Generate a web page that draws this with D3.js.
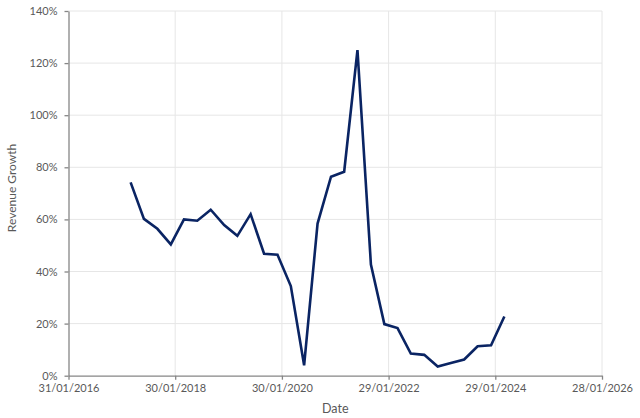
<!DOCTYPE html>
<html>
<head>
<meta charset="utf-8">
<script src="https://cdn.jsdelivr.net/npm/d3@7"></script>
<style>
  html, body { margin: 0; padding: 0; background: #fff; }
  svg text { font-family: Lato, "Open Sans", "Liberation Sans", sans-serif; fill: #595959; }
</style>
</head>
<body>
<svg id="chart" width="640" height="418"></svg>
<script>
const dates = [
  "2017-03-31","2017-06-30","2017-09-30","2017-12-31",
  "2018-03-31","2018-06-30","2018-09-30","2018-12-31",
  "2019-03-31","2019-06-30","2019-09-30","2019-12-31",
  "2020-03-31","2020-06-30","2020-09-30","2020-12-31",
  "2021-03-31","2021-06-30","2021-09-30","2021-12-31",
  "2022-03-31","2022-06-30","2022-09-30","2022-12-31",
  "2023-03-31","2023-06-30","2023-09-30","2023-12-31",
  "2024-03-31"
];
const revenueGrowth = [
  74.2, 60.2, 56.4, 50.4,
  60.0, 59.5, 63.7, 57.8,
  53.7, 62.0, 46.8, 46.4,
  34.4, 4.0, 58.4, 76.4,
  78.3, 125.0, 42.7, 19.8,
  18.3, 8.5, 8.0, 3.5,
  4.9, 6.2, 11.3, 11.7,
  22.7
];
const xTickLabels = ["31/01/2016","30/01/2018","30/01/2020","29/01/2022","29/01/2024","28/01/2026"];
const yTickValues = [0, 20, 40, 60, 80, 100, 120, 140];

const parseISO = d3.utcParse("%Y-%m-%d");
const parseDMY = d3.utcParse("%d/%m/%Y");
const fmtDMY = d3.utcFormat("%d/%m/%Y");

const data = dates.map((d, i) => ({ date: parseISO(d), value: revenueGrowth[i] }));
const xTicks = xTickLabels.map(parseDMY);

const margin = { left: 68.5, right: 38, top: 11, bottom: 42.3 };
const W = 640, H = 418;
const svg = d3.select("#chart");

const x = d3.scaleUtc()
  .domain([xTicks[0], xTicks[xTicks.length - 1]])
  .range([margin.left, W - margin.right]);
const y = d3.scaleLinear()
  .domain([0, 140])
  .range([H - margin.bottom, margin.top]);

// gridlines
const grid = svg.append("g");
grid.selectAll("line.h").data(yTickValues.slice(1)).join("line")
  .attr("x1", margin.left).attr("x2", W - margin.right)
  .attr("y1", d => y(d)).attr("y2", d => y(d))
  .attr("stroke", "#e6e6e6").attr("stroke-width", 1);
grid.selectAll("line.v").data(xTicks.slice(1)).join("line")
  .attr("x1", d => x(d)).attr("x2", d => x(d))
  .attr("y1", margin.top).attr("y2", H - margin.bottom)
  .attr("stroke", "#e6e6e6").attr("stroke-width", 1);

// axes
const xAxis = svg.append("g")
  .attr("transform", `translate(0,${H - margin.bottom})`)
  .call(d3.axisBottom(x).tickValues(xTicks).tickFormat(fmtDMY).tickSizeInner(4).tickSizeOuter(0).tickPadding(5));
const yAxis = svg.append("g")
  .attr("transform", `translate(${margin.left},0)`)
  .call(d3.axisLeft(y).tickValues(yTickValues).tickFormat(d => d + "%").tickSizeInner(4).tickSizeOuter(0).tickPadding(7));

[xAxis, yAxis].forEach(a => {
  a.select(".domain").attr("stroke", "#868686").attr("stroke-width", 1.3);
  a.selectAll(".tick line").attr("stroke", "#868686").attr("stroke-width", 1.3);
  a.selectAll(".tick text").attr("font-size", "11px").attr("fill", "#595959")
    .style("font-family", "Lato, 'Open Sans', sans-serif");
});

// line
const line = d3.line().x(d => x(d.date)).y(d => y(d.value));
svg.append("path").datum(data)
  .attr("d", line)
  .attr("fill", "none")
  .attr("stroke", "#0a2463")
  .attr("stroke-width", 2.6)
  .attr("stroke-linejoin", "miter")
  .attr("stroke-miterlimit", 3);

// axis titles
svg.append("text")
  .attr("x", (margin.left + W - margin.right) / 2).attr("y", 413)
  .attr("text-anchor", "middle").attr("font-size", "12.5px")
  .text("Date");
svg.append("text")
  .attr("transform", `translate(15.5,188) rotate(-90)`)
  .attr("text-anchor", "middle").attr("font-size", "12px")
  .text("Revenue Growth");
</script>
</body>
</html>
